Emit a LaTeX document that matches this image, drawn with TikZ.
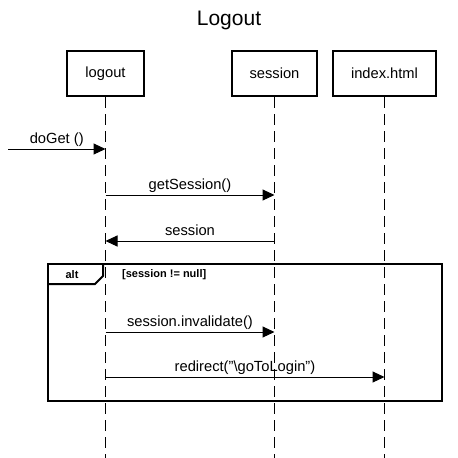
\documentclass[tikz,border=0pt]{standalone}
\usepackage{fontspec}
\setmainfont{Liberation Sans}
\usetikzlibrary{arrows.meta,positioning}

\begin{document}
\begin{tikzpicture}[x=1pt, y=-1pt,
    obj/.style={draw, line width=2.5pt, minimum width=#1, minimum height=45pt,
                inner sep=0pt, font=\fontsize{14.7}{17}\selectfont},
    obj/.default=80pt,
    life/.style={line width=1pt, dash pattern=on 11pt off 6pt},
    msg/.style={-{Triangle[length=12pt, width=11pt]}, line width=1pt},
    lbl/.style={anchor=base, yshift=6pt, inner sep=0pt,
                font=\fontsize{14.7}{17}\selectfont},
    frm/.style={line width=2pt},
    tag/.style={inner sep=0pt, font=\bfseries\fontsize{11}{13}\selectfont}
  ]
    \useasboundingbox (0,0) rectangle (458,458);
    \node[font=\fontsize{21}{25}\selectfont, anchor=base] (title) at (229,25) {Logout};
    \node[obj=77pt] (lgt) at (105.5,73.5) {logout};
    \node[obj=85pt, right=85.5pt of lgt] (ses) {session};
    \node[obj=103pt, right=13.5pt of ses] (idx) {index.html};
    \foreach \n in {lgt,ses,idx}
      \draw[life] (\n) -- (\n |- 0,458);
    % alt frame
    \draw[frm] (48,264) rectangle (442,401);
    \draw[frm] (48,284) -- (95,284) -- (103,276) -- (103,264);
    \node[tag] (alt) at (72,275) {alt};
    \node[tag, anchor=west] (guard) at (122,275) {[session != null]};
    % messages
    \coordinate (in) at (8,149);
    \draw[msg] (in) -- node[lbl] {doGet ()} (lgt |- 0,149);
    \foreach \a/\b/\y/\t in {lgt/ses/195/getSession(), ses/lgt/241/session,
        lgt/ses/332/session.invalidate(),
        lgt/idx/377/redirect("\textbackslash goToLogin")}
      \draw[msg] (\a |- 0,\y) -- node[lbl] {\t} (\b |- 0,\y);
  \end{tikzpicture}
\end{document}
